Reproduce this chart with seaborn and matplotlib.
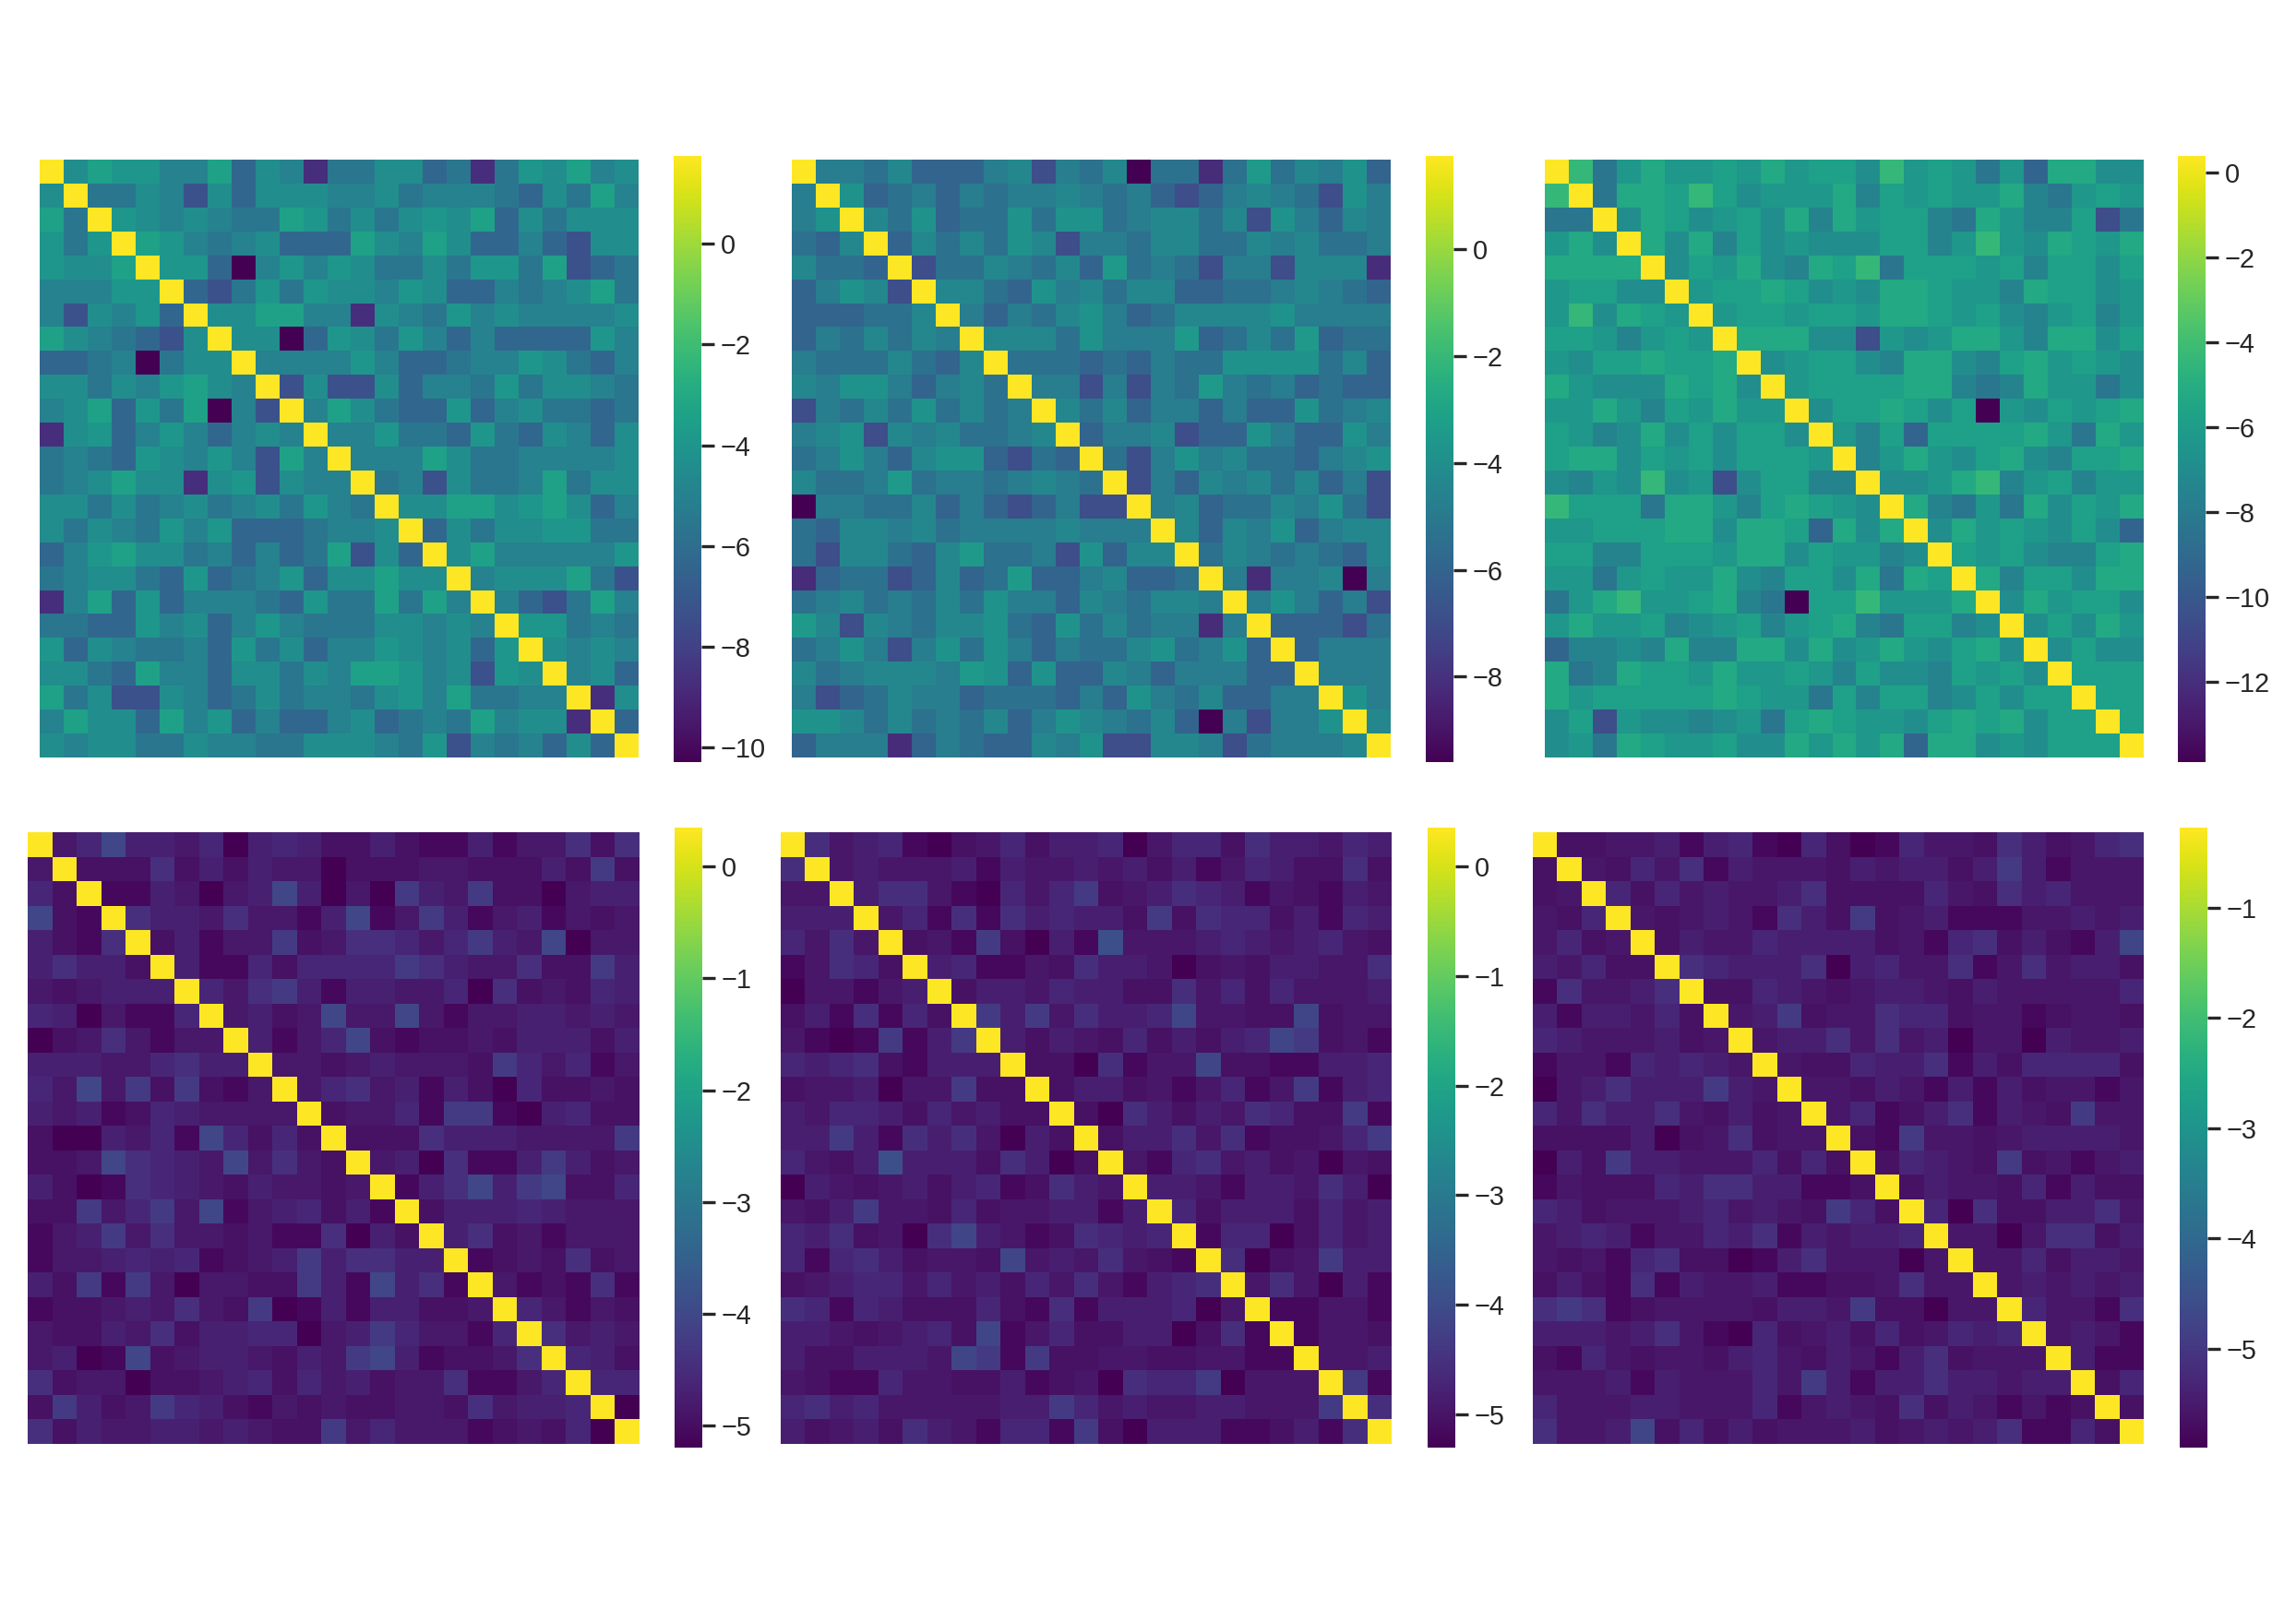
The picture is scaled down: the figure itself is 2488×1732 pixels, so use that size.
import numpy as np
import matplotlib
matplotlib.use('Agg')
import matplotlib.pyplot as plt
import seaborn as sns

# upper triangles, one digit per cell (diagonal left out)
panel1_rows = ["687755836514466341476856", "44652636665564555436485", "7656544874646768364666",
               "875456333865863353266", "77305757644647748234", "3247476657633545684",
               "668855165475655556", "66037647535333375", "5555753345576435", "262263554746654",
               "58643373564434", "5574437436536", "555864455556", "45264458466", "6688678635",
               "364667744", "68555557", "5666842", "532485", "77454", "6565", "563", "16", "3"]
panel2_rows = ["554633356254604414846573", "73453545565453235654275", "6473447477456646275365",
               "364647625546644656445", "24465463845425526661", "6643756466334456543",
               "535467534666675555", "66647555834648344", "4443435447777463", "552525485453433",
               "64635535337456", "3556233753375", "425756443567", "25365646352", "5634465742",
               "636573566", "46545436", "5155605", "575352", "33324", "3555", "555", "75", "6"]
panel3_rows = ["936866768677596763628855", "38879756668476766843676", "5875675848677438644713",
               "858475655577469658768", "57685487937776747757", "6778756588766487756",
               "677677688767546746", "88855165688648857", "5677548854786765", "677778843486635",
               "57787570657678", "6472777786386", "468657854778", "55689467466", "8436385768",
               "586765752", "76754478", "8477588", "586775", "57586", "5755", "777", "77", "7"]
panel4_rows = ["358443504542242114133626", "22262424330222332224272", "1143034840307437220344",
               "644363314813741341323", "24133723665357438033", "4115255557643362274",
               "536741443350623254", "34238338313344343", "4135821223244424", "332343332753513",
               "35634142052232", "2335177104522", "222644433337", "34061147423", "1468478225",
               "244454333", "46231333", "1232623", "312161", "53132", "6343", "542", "55", "0"]
panel5_rows = ["634510235244503552644354", "34333414334342413542262", "4663105357234654132143",
               "351616454427265524154", "23172041933345434532", "4511326443023244336",
               "244354422635253334", "74736445833228233", "4243252424587231", "220613382211445",
               "24423135137145", "2064243652271", "244636122357", "31563423032", "4431443640",
               "524442534", "15502534", "6023744", "363041", "11331", "1332", "334", "71", "6"]
panel6_rows = ["223341451052015332642356", "32536143332434424741333", "5253433462222532645333",
               "323431642723411133434", "24335444423156242148", "6544460453361363442",
               "225432344324333335", "34723365523312332", "3446363403304334", "322544614255552",
               "33243141423313", "3512461432733", "217332344443", "25432723134", "2433251422",
               "506224463", "33036624", "3352443", "343434", "53316", "3431", "411", "25", "2"]

# what each digit stands for in that panel, and the diagonal value
levels1 = [-10.3, -8.7, -7.3, -6.3, -5.55, -4.95, -4.45, -3.95, -3.45, -2.8]
levels2 = [-9.6, -8.2, -6.9, -6.0, -5.35, -4.85, -4.35, -3.85, -3.45, -3.0]
levels3 = [-13.9, -10.5, -9.3, -8.3, -7.5, -6.9, -6.35, -5.85, -5.25, -4.4]
levels4 = [-5.2, -5.07, -4.95, -4.85, -4.72, -4.6, -4.45, -4.25, -4.05, -3.85]
levels5 = [-5.3, -5.17, -5.05, -4.95, -4.82, -4.7, -4.55, -4.35, -4.15, -3.95]
levels6 = [-5.9, -5.77, -5.65, -5.55, -5.42, -5.3, -5.15, -4.95, -4.75, -4.55]
diagonals = [1.75, 1.75, 0.4, 0.35, 0.35, -0.27]

all_rows = [panel1_rows, panel2_rows, panel3_rows, panel4_rows, panel5_rows, panel6_rows]
all_levels = [levels1, levels2, levels3, levels4, levels5, levels6]

# pixel boxes in the 2488x1732 figure: heatmap left, right, top, bottom, colorbar left, top, bottom
boxes = [(43, 692, 173, 821, 730, 169, 826),
         (858, 1507, 173, 821, 1545, 169, 826),
         (1674, 2323, 173, 821, 2360, 169, 826),
         (30, 693, 902, 1565, 731, 897, 1569),
         (846, 1508, 902, 1565, 1547, 897, 1569),
         (1661, 2323, 902, 1565, 2362, 897, 1569)]
cbar_width = 30
W, H = 2488, 1732


def build_matrix(rows, levels, diag):
    n = len(rows) + 1
    m = np.full((n, n), float(diag))
    for i, row in enumerate(rows):
        for k, ch in enumerate(row):
            j = i + 1 + k
            m[i, j] = levels[int(ch)]
            m[j, i] = levels[int(ch)]
    return m


sns.set_theme(style='ticks', font='Liberation Sans')
fig = plt.figure(figsize=(W / 200, H / 200), dpi=200)

for rows, levels, diag, box in zip(all_rows, all_levels, diagonals, boxes):
    left, right, top, bottom, cleft, ctop, cbottom = box
    ax = fig.add_axes([left / W, 1 - bottom / H, (right - left) / W, (bottom - top) / H])
    cax = fig.add_axes([cleft / W, 1 - cbottom / H, cbar_width / W, (cbottom - ctop) / H])
    sns.heatmap(build_matrix(rows, levels, diag), cmap='viridis', ax=ax, cbar_ax=cax,
                xticklabels=False, yticklabels=False)
    cax.tick_params(labelsize=10.4, length=5, width=1.2, color='#262626', labelcolor='#262626', pad=2.5)

fig.savefig('out.png', dpi=200)
